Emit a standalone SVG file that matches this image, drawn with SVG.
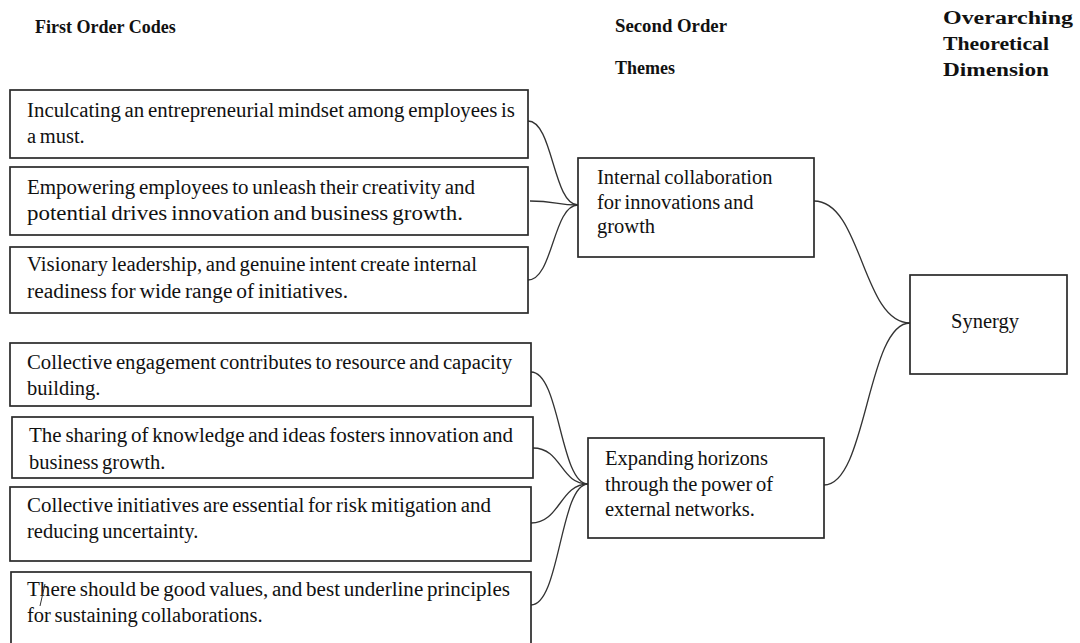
<svg xmlns="http://www.w3.org/2000/svg" width="1080" height="643" viewBox="0 0 1080 643">
  <style>
    .box { fill: #ffffff; stroke: #2a2a2a; stroke-width: 1.7; }
    .hdr { font-family: "Liberation Serif", "Times New Roman", serif; font-weight: bold; font-size: 18px; fill: #111; }
    .txt { font-family: "Liberation Serif", "Times New Roman", serif; font-size: 20.5px; word-spacing: -1.5px; fill: #111; }
    .link { fill: none; stroke: #333; stroke-width: 1.3; }
  </style>
  <rect width="1080" height="643" fill="#ffffff"/>

  <!-- column headings -->
  <g id="headings">
    <text class="hdr" x="35" y="33">First Order Codes</text>
    <text class="hdr" x="615" y="32" textLength="112" lengthAdjust="spacingAndGlyphs">Second Order</text>
    <text class="hdr" x="615" y="74">Themes</text>
    <text class="hdr" x="943" y="24" textLength="130" lengthAdjust="spacingAndGlyphs">Overarching</text>
    <text class="hdr" x="943" y="50" textLength="106" lengthAdjust="spacingAndGlyphs">Theoretical</text>
    <text class="hdr" x="943" y="76" textLength="106" lengthAdjust="spacingAndGlyphs">Dimension</text>
  </g>

  <!-- connectors -->
  <g id="connectors">
    <path class="link" d="M528,121 C553,121 553,205 578,205"/>
    <path class="link" d="M530,201 C556,201 556,205 578,205"/>
    <path class="link" d="M528,280 C553,280 553,205 578,205"/>
    <path class="link" d="M531,372 C560,372 560,484 588,484"/>
    <path class="link" d="M533,448 C562,448 560,484 588,484"/>
    <path class="link" d="M531,523 C560,523 560,484 588,484"/>
    <path class="link" d="M531,605 C560,605 560,484 588,484"/>
    <path class="link" d="M814,201 C862,201 862,323 910,323"/>
    <path class="link" d="M824,485 C867,485 867,323 910,323"/>
  </g>

  <!-- first order codes -->
  <g id="code-1">
    <rect class="box" x="10" y="90" width="518" height="68"/>
    <text class="txt" x="27" y="117" textLength="488" lengthAdjust="spacingAndGlyphs">Inculcating an entrepreneurial mindset among employees is</text>
    <text class="txt" x="27" y="143">a must.</text>
  </g>
  <g id="code-2">
    <rect class="box" x="10" y="167" width="518" height="68"/>
    <text class="txt" x="27" y="194" textLength="448" lengthAdjust="spacingAndGlyphs">Empowering employees to unleash their creativity and</text>
    <text class="txt" x="27" y="220" textLength="436" lengthAdjust="spacingAndGlyphs">potential drives innovation and business growth.</text>
  </g>
  <g id="code-3">
    <rect class="box" x="10" y="247" width="518" height="66"/>
    <text class="txt" x="27" y="271" textLength="450" lengthAdjust="spacingAndGlyphs">Visionary leadership, and genuine intent create internal</text>
    <text class="txt" x="27" y="298" textLength="321" lengthAdjust="spacingAndGlyphs">readiness for wide range of initiatives.</text>
  </g>
  <g id="code-4">
    <rect class="box" x="10" y="343" width="521" height="63"/>
    <text class="txt" x="27" y="369" textLength="485" lengthAdjust="spacingAndGlyphs">Collective engagement contributes to resource and capacity</text>
    <text class="txt" x="27" y="395">building.</text>
  </g>
  <g id="code-5">
    <rect class="box" x="12" y="417" width="521" height="61"/>
    <text class="txt" x="29" y="442" textLength="484" lengthAdjust="spacingAndGlyphs">The sharing of knowledge and ideas fosters innovation and</text>
    <text class="txt" x="29" y="469">business growth.</text>
  </g>
  <g id="code-6">
    <rect class="box" x="10" y="487" width="521" height="74"/>
    <text class="txt" x="27" y="512" textLength="464" lengthAdjust="spacingAndGlyphs">Collective initiatives are essential for risk mitigation and</text>
    <text class="txt" x="27" y="538">reducing uncertainty.</text>
  </g>
  <g id="code-7">
    <rect class="box" x="11" y="572" width="520" height="80"/>
    <text class="txt" x="27" y="596" textLength="483" lengthAdjust="spacingAndGlyphs">There should be good values, and best underline principles</text>
    <text class="txt" x="27" y="622">for sustaining collaborations.</text>
    <path d="M45,584 L40,606" fill="none" stroke="#333" stroke-width="1"/>
  </g>

  <!-- second order themes -->
  <g id="theme-internal">
    <rect class="box" x="578" y="158" width="236" height="99"/>
    <text class="txt" x="597" y="184">Internal collaboration</text>
    <text class="txt" x="597" y="209">for innovations and</text>
    <text class="txt" x="597" y="233">growth</text>
  </g>
  <g id="theme-external">
    <rect class="box" x="588" y="438" width="236" height="100"/>
    <text class="txt" x="605" y="465">Expanding horizons</text>
    <text class="txt" x="605" y="491">through the power of</text>
    <text class="txt" x="605" y="516">external networks.</text>
  </g>

  <!-- overarching dimension -->
  <g id="dimension-synergy">
    <rect class="box" x="910" y="275" width="157" height="99"/>
    <text class="txt" x="951" y="328">Synergy</text>
  </g>
</svg>
